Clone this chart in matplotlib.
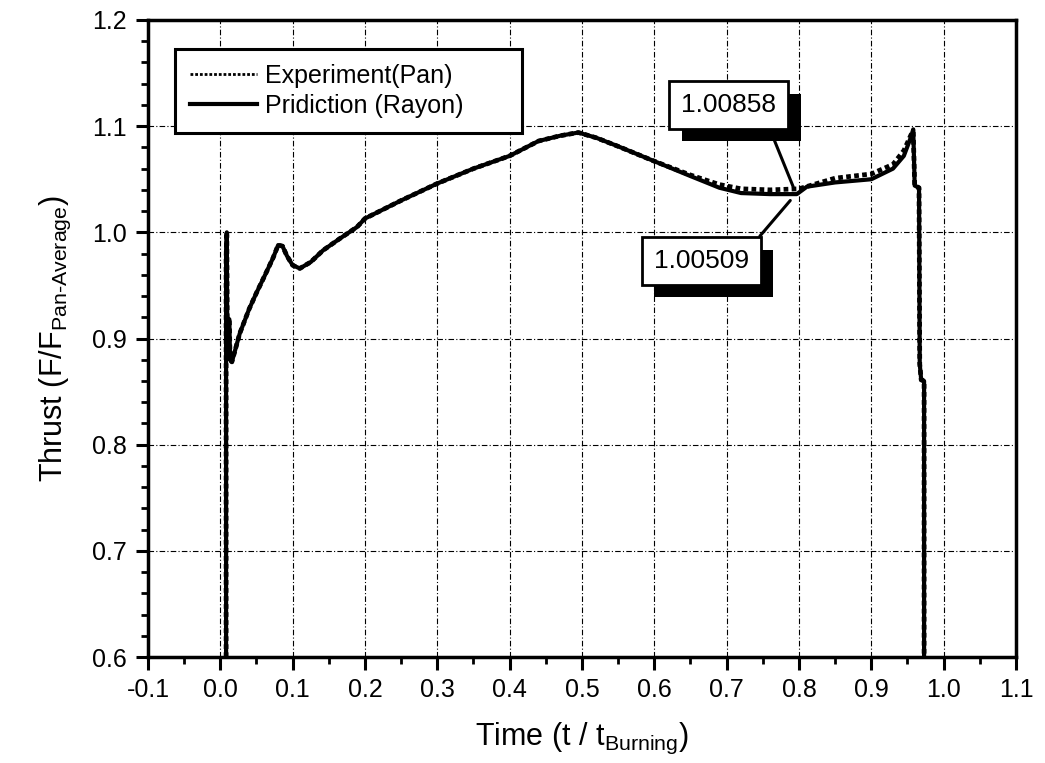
import numpy as np
import matplotlib
matplotlib.use('Agg')
import matplotlib.pyplot as plt
from matplotlib.ticker import MultipleLocator
import matplotlib.patheffects as pe

plt.rcParams['font.family'] = ['Liberation Sans', 'DejaVu Sans']
plt.rcParams['mathtext.fontset'] = 'custom'
plt.rcParams['mathtext.rm'] = 'Liberation Sans'
plt.rcParams['axes.unicode_minus'] = False

# 数据
t_pred = [0.0080, 0.0080, 0.0090, 0.0095, 0.0125, 0.0135, 0.016, 0.027, 0.040, 0.050,
          0.062, 0.073, 0.080, 0.086, 0.092, 0.100, 0.110, 0.125, 0.142, 0.165,
          0.189, 0.200, 0.250, 0.300, 0.350, 0.400, 0.440, 0.470, 0.495, 0.520,
          0.550, 0.600, 0.650, 0.690, 0.720, 0.760, 0.797, 0.811, 0.850, 0.900,
          0.930, 0.945, 0.955, 0.958, 0.960, 0.966, 0.967, 0.969, 0.973, 0.973]
f_pred = [0.600, 0.975, 1.000, 0.920, 0.918, 0.880, 0.878, 0.905, 0.928, 0.943,
          0.960, 0.976, 0.988, 0.987, 0.978, 0.969, 0.966, 0.972, 0.983, 0.994,
          1.005, 1.013, 1.030, 1.046, 1.060, 1.072, 1.086, 1.091, 1.094, 1.089,
          1.081, 1.067, 1.053, 1.042, 1.037, 1.036, 1.036, 1.043, 1.047, 1.050,
          1.060, 1.072, 1.090, 1.097, 1.044, 1.042, 0.876, 0.861, 0.860, 0.600]

t_exp = [0.0080, 0.0080, 0.0090, 0.0095, 0.0125, 0.0135, 0.016, 0.027, 0.040, 0.050,
         0.062, 0.073, 0.080, 0.086, 0.092, 0.100, 0.110, 0.125, 0.142, 0.165,
         0.189, 0.200, 0.250, 0.300, 0.350, 0.400, 0.440, 0.470, 0.495, 0.520,
         0.550, 0.600, 0.650, 0.690, 0.720, 0.760, 0.800, 0.850, 0.900, 0.930,
         0.945, 0.955, 0.958, 0.960, 0.966, 0.967, 0.969, 0.973, 0.973]
f_exp = [0.600, 0.975, 1.000, 0.920, 0.918, 0.880, 0.878, 0.905, 0.928, 0.943,
         0.960, 0.976, 0.988, 0.987, 0.978, 0.969, 0.966, 0.972, 0.983, 0.994,
         1.005, 1.013, 1.030, 1.046, 1.060, 1.072, 1.086, 1.091, 1.094, 1.089,
         1.081, 1.067, 1.054, 1.045, 1.041, 1.040, 1.041, 1.051, 1.055, 1.064,
         1.077, 1.092, 1.095, 1.044, 1.042, 0.876, 0.861, 0.860, 0.600]

x_ticks = [-0.1, 0.0, 0.1, 0.2, 0.3, 0.4, 0.5, 0.6, 0.7, 0.8, 0.9, 1.0, 1.1]
y_ticks = [0.6, 0.7, 0.8, 0.9, 1.0, 1.1, 1.2]

# 标注
ann_labels = ['1.00858', '1.00509']
ann_points = [(0.792, 1.043), (0.788, 1.030)]
ann_boxes = [(0.703, 1.120), (0.665, 0.973)]
ann_relpos = [(0.88, 0.0), (1.0, 1.0)]

fig = plt.figure(figsize=(10.45, 7.63), dpi=100)
ax = fig.add_axes([0.1416, 0.1389, 0.8306, 0.8349])

ax.plot(t_exp, f_exp, color='black', lw=3.4, linestyle=(0, (1, 0.7)), label='Experiment(Pan)')
ax.plot(t_pred, f_pred, color='black', lw=3.0, label='Pridiction (Rayon)')

ax.set_xlim(-0.1, 1.1)
ax.set_ylim(0.6, 1.2)
ax.set_xticks(x_ticks)
ax.set_xticklabels([f'{v:.1f}' for v in x_ticks])
ax.set_yticks(y_ticks)
ax.set_yticklabels([f'{v:.1f}' for v in y_ticks])
ax.xaxis.set_minor_locator(MultipleLocator(0.05))
ax.yaxis.set_minor_locator(MultipleLocator(0.02))
ax.tick_params(which='major', direction='out', length=9, width=2.2, labelsize=18, pad=6)
ax.tick_params(which='minor', direction='out', length=5, width=2.0)

ax.set_axisbelow(True)
ax.grid(True, which='major', color='black', lw=0.8, linestyle=(0, (5, 2, 1, 2)))
for s in ax.spines.values():
    s.set_linewidth(2.5)

ax.set_xlabel(r'Time (t / t$_{\mathrm{Burning}}$)', fontsize=22, labelpad=14)
ax.set_ylabel(r'Thrust (F/F$_{\mathrm{Pan}\text{-}\mathrm{Average}}$)', fontsize=22, labelpad=14)

leg = ax.legend(loc='upper left', bbox_to_anchor=(0.031, 0.818, 0.40, 0.1365), mode='expand',
                fontsize=18, frameon=True, fancybox=False, edgecolor='black', framealpha=1,
                handlelength=2.7, handletextpad=0.3, labelspacing=0.25, borderpad=0.6,
                borderaxespad=0)
leg.get_frame().set_linewidth(2.2)
leg.get_lines()[0].set_linewidth(2.0)

for label, pt, box, rp in zip(ann_labels, ann_points, ann_boxes, ann_relpos):
    t = ax.annotate(label, xy=pt, xytext=box, textcoords='data', ha='center', va='center',
                    fontsize=19,
                    bbox=dict(boxstyle='square,pad=0.45', fc='white', ec='black', lw=2),
                    arrowprops=dict(arrowstyle='-', lw=2.2, color='black',
                                    shrinkA=0, shrinkB=0, relpos=rp))
    t.get_bbox_patch().set_path_effects([
        pe.SimplePatchShadow(offset=(9, -9), shadow_rgbFace='black', alpha=1.0),
        pe.Normal()])

plt.savefig('out.png', dpi=100, facecolor='white')
plt.close()
